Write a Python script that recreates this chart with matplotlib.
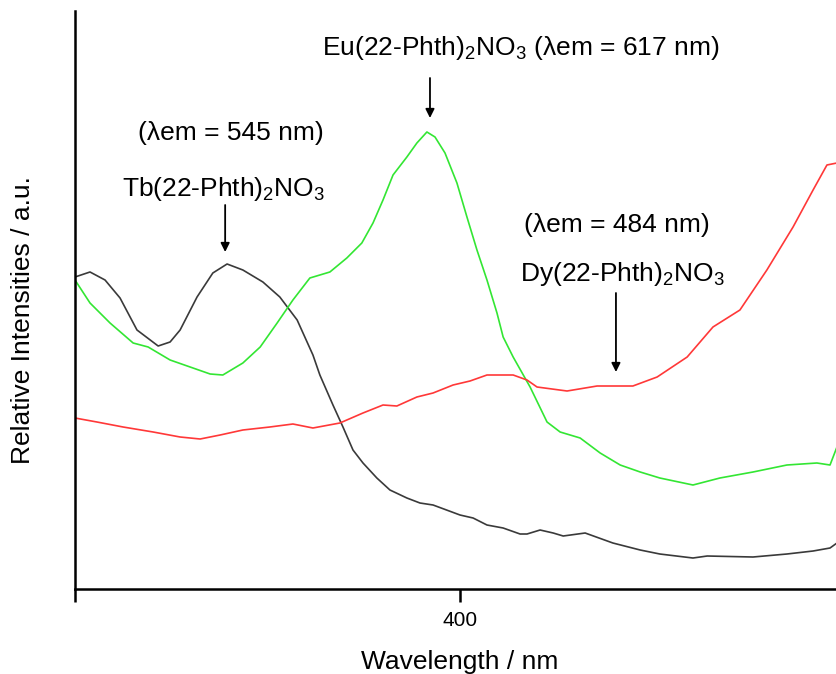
import matplotlib
matplotlib.use("Agg")
import matplotlib.pyplot as plt

plt.rcParams['font.family'] = ['Liberation Sans', 'DejaVu Sans']
plt.rcParams['mathtext.fontset'] = 'custom'
plt.rcParams['mathtext.rm'] = 'Liberation Sans'
plt.rcParams['mathtext.it'] = 'Liberation Sans:italic'

# Tb(22-Phth)2NO3, excitation spectrum (lambda em = 545 nm)
tb_wl = [300.0, 303.9, 307.8, 311.7, 316.1, 321.6, 324.7, 327.3, 331.7, 335.8,
         339.5, 343.6, 348.8, 353.2, 357.7, 361.8, 363.6, 367.0, 369.6, 372.2,
         374.8, 378.4, 381.8, 386.2, 389.6, 393.0, 400.0, 403.4, 407.0, 411.2,
         415.6, 417.4, 420.8, 424.2, 426.8, 432.5, 439.7, 446.8, 451.9, 460.5,
         464.2, 476.1, 484.9, 491.7, 496.1, 497.9]
tb_int = [312, 317, 309, 291, 259, 243, 247, 259, 292, 316,
          325, 319, 307, 292, 269, 234, 214, 184, 162, 139,
          126, 111, 99, 91, 86, 84, 74, 71, 64, 61,
          55, 55, 59, 56, 53, 56, 46, 39, 35, 31,
          33, 32, 35, 38, 41, 46]

# Eu(22-Phth)2NO3 (lambda em = 617 nm)
eu_wl = [300.0, 303.9, 309.1, 315.1, 319.0, 324.7, 329.9, 335.1, 338.4, 343.6,
         348.1, 352.5, 356.6, 361.0, 366.2, 370.6, 374.5, 377.4, 380.0, 382.6,
         386.2, 388.8, 391.4, 393.5, 396.1, 399.2, 401.8, 404.4, 407.0, 409.6,
         411.2, 413.8, 418.2, 422.6, 426.0, 431.2, 436.4, 441.6, 446.8, 451.9,
         460.5, 467.5, 476.1, 484.9, 492.7, 496.1, 497.9]
eu_int = [309, 286, 266, 246, 242, 229, 222, 215, 214, 226,
          242, 266, 289, 311, 317, 331, 346, 366, 389, 414,
          432, 446, 457, 452, 436, 406, 372, 339, 309, 276,
          252, 232, 202, 167, 157, 151, 136, 124, 117, 111,
          104, 111, 117, 124, 126, 124, 142]

# Dy(22-Phth)2NO3 (lambda em = 484 nm)
dy_wl = [300.0, 305.7, 312.5, 320.3, 327.3, 332.5, 337.7, 343.6, 350.6, 356.6,
         361.8, 368.8, 374.8, 380.0, 383.6, 388.8, 393.0, 398.2, 402.6, 407.0,
         413.8, 417.4, 420.0, 427.8, 435.6, 444.9, 451.2, 459.0, 465.7, 472.7,
         479.7, 486.5, 491.7, 495.3, 497.9]
dy_int = [171, 167, 162, 157, 152, 150, 154, 159, 162, 165,
          161, 166, 176, 184, 183, 192, 196, 204, 208, 214,
          214, 209, 202, 198, 203, 203, 212, 232, 262, 279,
          319, 362, 399, 424, 426]

fig = plt.figure(figsize=(8.37, 6.74), dpi=100)
ax = fig.add_axes([0.0896, 0.1261, 0.92, 0.8576])

line_kw = dict(lw=1.2, solid_joinstyle='round', solid_capstyle='round')
ax.plot(tb_wl, tb_int, color='#3a3a3a', **line_kw)
ax.plot(eu_wl, eu_int, color='#33e633', **line_kw)
ax.plot(dy_wl, dy_int, color='#ff3838', **line_kw)

ax.set_xlim(300, 500)
ax.set_ylim(0, 578)
ax.set_xticks([300, 400])
ax.set_xticklabels(['', '400'], fontsize=15)
ax.set_yticks([])
ax.tick_params(axis='x', direction='out', length=9, width=1.8, pad=7)
for s in ['top', 'right']:
    ax.spines[s].set_visible(False)
for s in ['left', 'bottom']:
    ax.spines[s].set_linewidth(1.8)

fig.text(460 / 837, 1 - 662 / 674, 'Wavelength / nm', fontsize=19,
         ha='center', va='center')
fig.text(23 / 837, 1 - 320 / 674, 'Relative Intensities / a.u.', fontsize=19,
         rotation=90, ha='center', va='center')

arrow = dict(arrowstyle='-|>', color='k', lw=1.3, mutation_scale=13,
             shrinkA=0, shrinkB=0)
fs = 19

ax.text(415.8, 541, 'Eu(22-Phth)$_2$NO$_3$ (\u03bbem = 617 nm)', fontsize=fs,
        ha='center', va='center')
ax.annotate('', xy=(392.2, 471), xytext=(392.2, 511), arrowprops=arrow)

ax.text(340.5, 456, '(\u03bbem = 545 nm)', fontsize=fs, ha='center', va='center')
ax.text(338.5, 400, 'Tb(22-Phth)$_2$NO$_3$', fontsize=fs, ha='center', va='center')
ax.annotate('', xy=(339.0, 337), xytext=(339.0, 384), arrowprops=arrow)

ax.text(440.8, 364, '(\u03bbem = 484 nm)', fontsize=fs, ha='center', va='center')
ax.text(442.2, 315, 'Dy(22-Phth)$_2$NO$_3$', fontsize=fs, ha='center', va='center')
ax.annotate('', xy=(440.5, 217), xytext=(440.5, 296), arrowprops=arrow)

fig.savefig('out.png', dpi=100)
